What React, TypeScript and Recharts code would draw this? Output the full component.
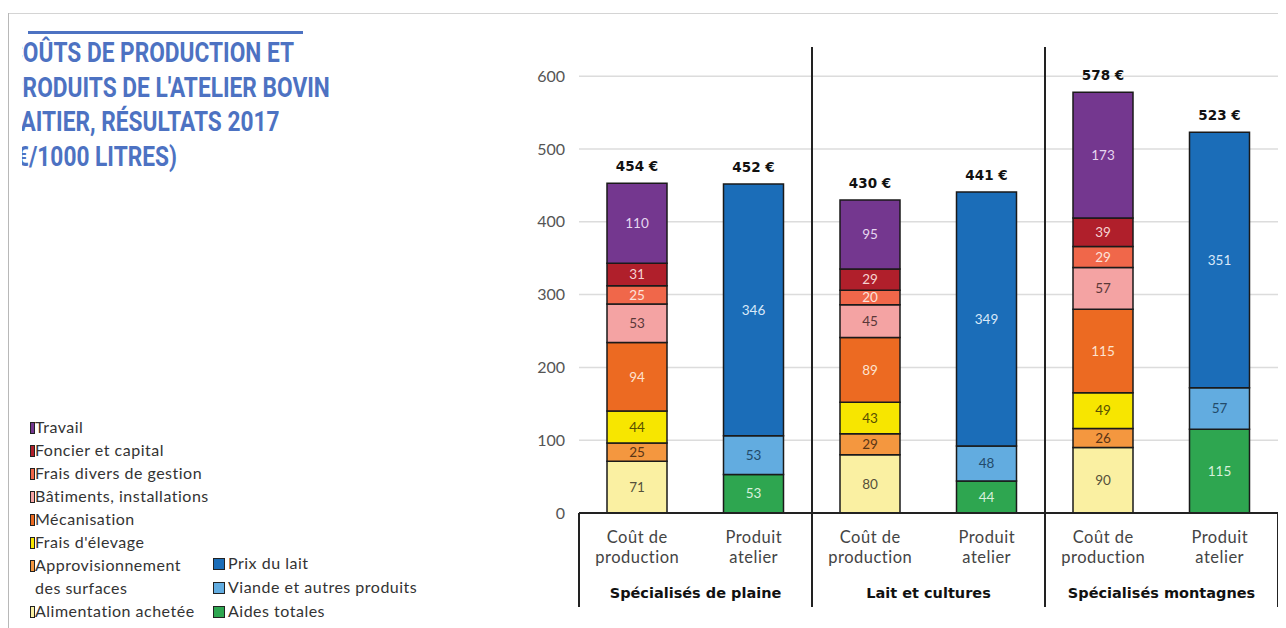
import React from 'react'
import { BarChart, Bar, XAxis, YAxis, CartesianGrid, LabelList } from 'recharts'

// €/1000 litres, one value per group (plaine, lait et cultures, montagnes)
const groups = ['Spécialisés de plaine', 'Lait et cultures', 'Spécialisés montagnes']
const costLabel = ['Coût de', 'production']
const productLabel = ['Produit', 'atelier']

const alimentation = [71, 80, 90]
const approvisionnement = [25, 29, 26]
const fraisElevage = [44, 43, 49]
const mecanisation = [94, 89, 115]
const batiments = [53, 45, 57]
const fraisDivers = [25, 20, 29]
const foncier = [31, 29, 39]
const travail = [110, 95, 173]

const aides = [53, 44, 115]
const viande = [53, 48, 57]
const prixLait = [346, 349, 351]

const costTotals = [454, 430, 578]
const productTotals = [452, 441, 523]

const yTicks = [0, 100, 200, 300, 400, 500, 600]

const costSeries = [
  { key: 'alimentation', name: 'Alimentation achetée', color: '#faf0a2', text: '#55503a', values: alimentation },
  { key: 'approvisionnement', name: 'Approvisionnement\ndes surfaces', color: '#f4973f', text: '#5a3516', values: approvisionnement },
  { key: 'fraisElevage', name: "Frais d'élevage", color: '#f7e600', text: '#585000', values: fraisElevage },
  { key: 'mecanisation', name: 'Mécanisation', color: '#ec6a22', text: '#fde3d0', values: mecanisation },
  { key: 'batiments', name: 'Bâtiments, installations', color: '#f4a3a3', text: '#5a3838', values: batiments },
  { key: 'fraisDivers', name: 'Frais divers de gestion', color: '#f0674a', text: '#fde2da', values: fraisDivers },
  { key: 'foncier', name: 'Foncier et capital', color: '#b01f2b', text: '#f6d2d2', values: foncier },
  { key: 'travail', name: 'Travail', color: '#74378f', text: '#e6d6f0', values: travail },
]

const productSeries = [
  { key: 'aides', name: 'Aides totales', color: '#2ea650', text: '#d8f0dc', values: aides },
  { key: 'viande', name: 'Viande et autres produits', color: '#62ace0', text: '#234a6a', values: viande },
  { key: 'prixLait', name: 'Prix du lait', color: '#1b6db8', text: '#d8e8f8', values: prixLait },
]

const allSeries = [...costSeries, ...productSeries]

const rows = groups.flatMap((group, i) => {
  const cost: Record<string, unknown> = { key: `c${i}`, lines: costLabel, group, costTotal: costTotals[i], productTotal: null }
  const product: Record<string, unknown> = { key: `p${i}`, lines: productLabel, group, costTotal: null, productTotal: productTotals[i] }
  costSeries.forEach(s => { cost[s.key] = s.values[i]; product[s.key] = 0 })
  productSeries.forEach(s => { product[s.key] = s.values[i]; cost[s.key] = 0 })
  return [cost, product]
})

const W = 1278
const H = 620
const MARGIN = { top: 39, right: 8, bottom: 21, left: 0 }
const Y_AXIS_W = 571
const X_AXIS_H = 94
const PLOT_H = H - MARGIN.top - MARGIN.bottom - X_AXIS_H
const HALF_BAND = (W - MARGIN.right - Y_AXIS_W) / rows.length / 2
const FONT = 'Lato, "Noto Sans", sans-serif'
const BOLD_FONT = '"DejaVu Sans", sans-serif'

function CategoryTick(props: any) {
  const { x, y, payload, index } = props
  const row = rows[index] as any
  const half = payload?.offset || HALF_BAND
  const lineColor = '#222'
  const textStyle = { fontFamily: FONT, letterSpacing: 0.5 }
  return (
    <g>
      <text x={x} y={y + 24} dy="0.35em" textAnchor="middle" fontSize={16.5} fill="#444" style={textStyle}>{row.lines[0]}</text>
      <text x={x} y={y + 44} dy="0.35em" textAnchor="middle" fontSize={16.5} fill="#444" style={textStyle}>{row.lines[1]}</text>
      {index % 2 === 0 && (
        <text
          x={x + half}
          y={y + 80}
          dy="0.35em"
          textAnchor="middle"
          fontSize={14.5}
          fontWeight={700}
          fill="#111"
          style={{ fontFamily: BOLD_FONT }}
        >
          {row.group}
        </text>
      )}
      {index === 0 && <line x1={x - half} x2={x - half} y1={y} y2={y + X_AXIS_H} stroke={lineColor} strokeWidth={2} />}
      {index % 2 === 1 && (
        <line
          x1={x + half}
          x2={x + half}
          y1={index === rows.length - 1 ? y : y - PLOT_H}
          y2={y + X_AXIS_H}
          stroke={lineColor}
          strokeWidth={2}
        />
      )}
    </g>
  )
}

function LegendItem({ name, color, narrow }: { name: string; color: string; narrow?: boolean }) {
  const parts = name.split('\n')
  return (
    <div style={{ position: 'relative', paddingLeft: narrow ? 5 : 15, lineHeight: narrow ? '23px' : '24px' }}>
      <span
        style={{
          position: 'absolute',
          left: 0,
          top: 7,
          width: narrow ? 3 : 10,
          height: 10,
          background: color,
          border: '1px solid #222',
        }}
      />
      {parts.map((p, i) => <div key={i}>{p}</div>)}
    </div>
  )
}

export default function App() {
  return (
    <div style={{ position: 'relative', width: W, height: H, fontFamily: FONT, overflow: 'hidden' }}>
      {/* frame */}
      <div style={{ position: 'absolute', left: 0, top: 5, width: W, height: 1, background: '#d4d4d4' }} />
      <div style={{ position: 'absolute', left: 0, top: 5, width: 1, height: H, background: '#b8b8b8' }} />

      {/* title */}
      <div style={{ position: 'absolute', left: 20, top: 23, width: 275, height: 3, background: '#4d72c2' }} />
      <div style={{ position: 'absolute', left: 14, top: 28, width: 420, height: 150, overflow: 'hidden' }}>
        <div
          style={{
            position: 'absolute',
            left: -14,
            top: 0,
            fontFamily: 'Roboto, sans-serif',
            fontWeight: 700,
            fontSize: 28,
            lineHeight: '34.5px',
            color: '#4d72c2',
            whiteSpace: 'nowrap',
            transform: 'scaleX(0.81)',
            transformOrigin: 'left top',
          }}
        >
          <div>COÛTS DE PRODUCTION ET</div>
          <div>PRODUITS DE L'ATELIER BOVIN</div>
          <div>LAITIER, RÉSULTATS 2017</div>
          <div>(€/1000 LITRES)</div>
        </div>
      </div>

      {/* legend */}
      <div style={{ position: 'absolute', left: 22, top: 407, fontSize: 16, letterSpacing: 0.5, color: '#333' }}>
        {[...costSeries].reverse().map(s => (
          <LegendItem key={s.key} name={s.name} color={s.color} narrow />
        ))}
      </div>
      <div style={{ position: 'absolute', left: 205, top: 543, fontSize: 16, letterSpacing: 0.5, color: '#333' }}>
        {[...productSeries].reverse().map(s => (
          <LegendItem key={s.key} name={s.name} color={s.color} />
        ))}
      </div>

      <div style={{ position: 'absolute', left: 0, top: 0 }}>
        <BarChart width={W} height={H} data={rows} margin={MARGIN} style={{ fontFamily: FONT }}>
          <CartesianGrid
            vertical={false}
            horizontalValues={yTicks.slice(1)}
            stroke="#dcdcdc"
            strokeWidth={1.5}
          />
          <YAxis
            width={Y_AXIS_W}
            domain={[0, 640]}
            ticks={yTicks}
            axisLine={false}
            stroke="none"
            tickLine={false}
            tickSize={0}
            tickMargin={14}
            tick={{ fontSize: 16, fill: '#555' }}
          />
          <XAxis
            dataKey="key"
            height={X_AXIS_H}
            interval={0}
            tickLine={false}
            tickSize={0}
            tickMargin={0}
            axisLine={{ stroke: '#222', strokeWidth: 2 }}
            tick={<CategoryTick />}
          />
          {allSeries.map(s => (
            <Bar
              key={s.key}
              dataKey={s.key}
              name={s.name}
              stackId="s"
              barSize={60}
              fill={s.color}
              stroke="#1a1a1a"
              strokeWidth={1.5}
              isAnimationActive={false}
            >
              <LabelList
                dataKey={s.key}
                position="center"
                fill={s.text}
                fontSize={13.5}
                formatter={(v: any) => (v ? v : '')}
              />
              {s.key === 'travail' && (
                <LabelList
                  dataKey="costTotal"
                  position="top"
                  offset={12}
                  fill="#111"
                  fontSize={13.5}
                  fontWeight={700}
                  fontFamily={BOLD_FONT}
                  formatter={(v: any) => (v ? `${v} €` : '')}
                />
              )}
              {s.key === 'prixLait' && (
                <LabelList
                  dataKey="productTotal"
                  position="top"
                  offset={12}
                  fill="#111"
                  fontSize={13.5}
                  fontWeight={700}
                  fontFamily={BOLD_FONT}
                  formatter={(v: any) => (v ? `${v} €` : '')}
                />
              )}
            </Bar>
          ))}
        </BarChart>
      </div>
    </div>
  )
}
